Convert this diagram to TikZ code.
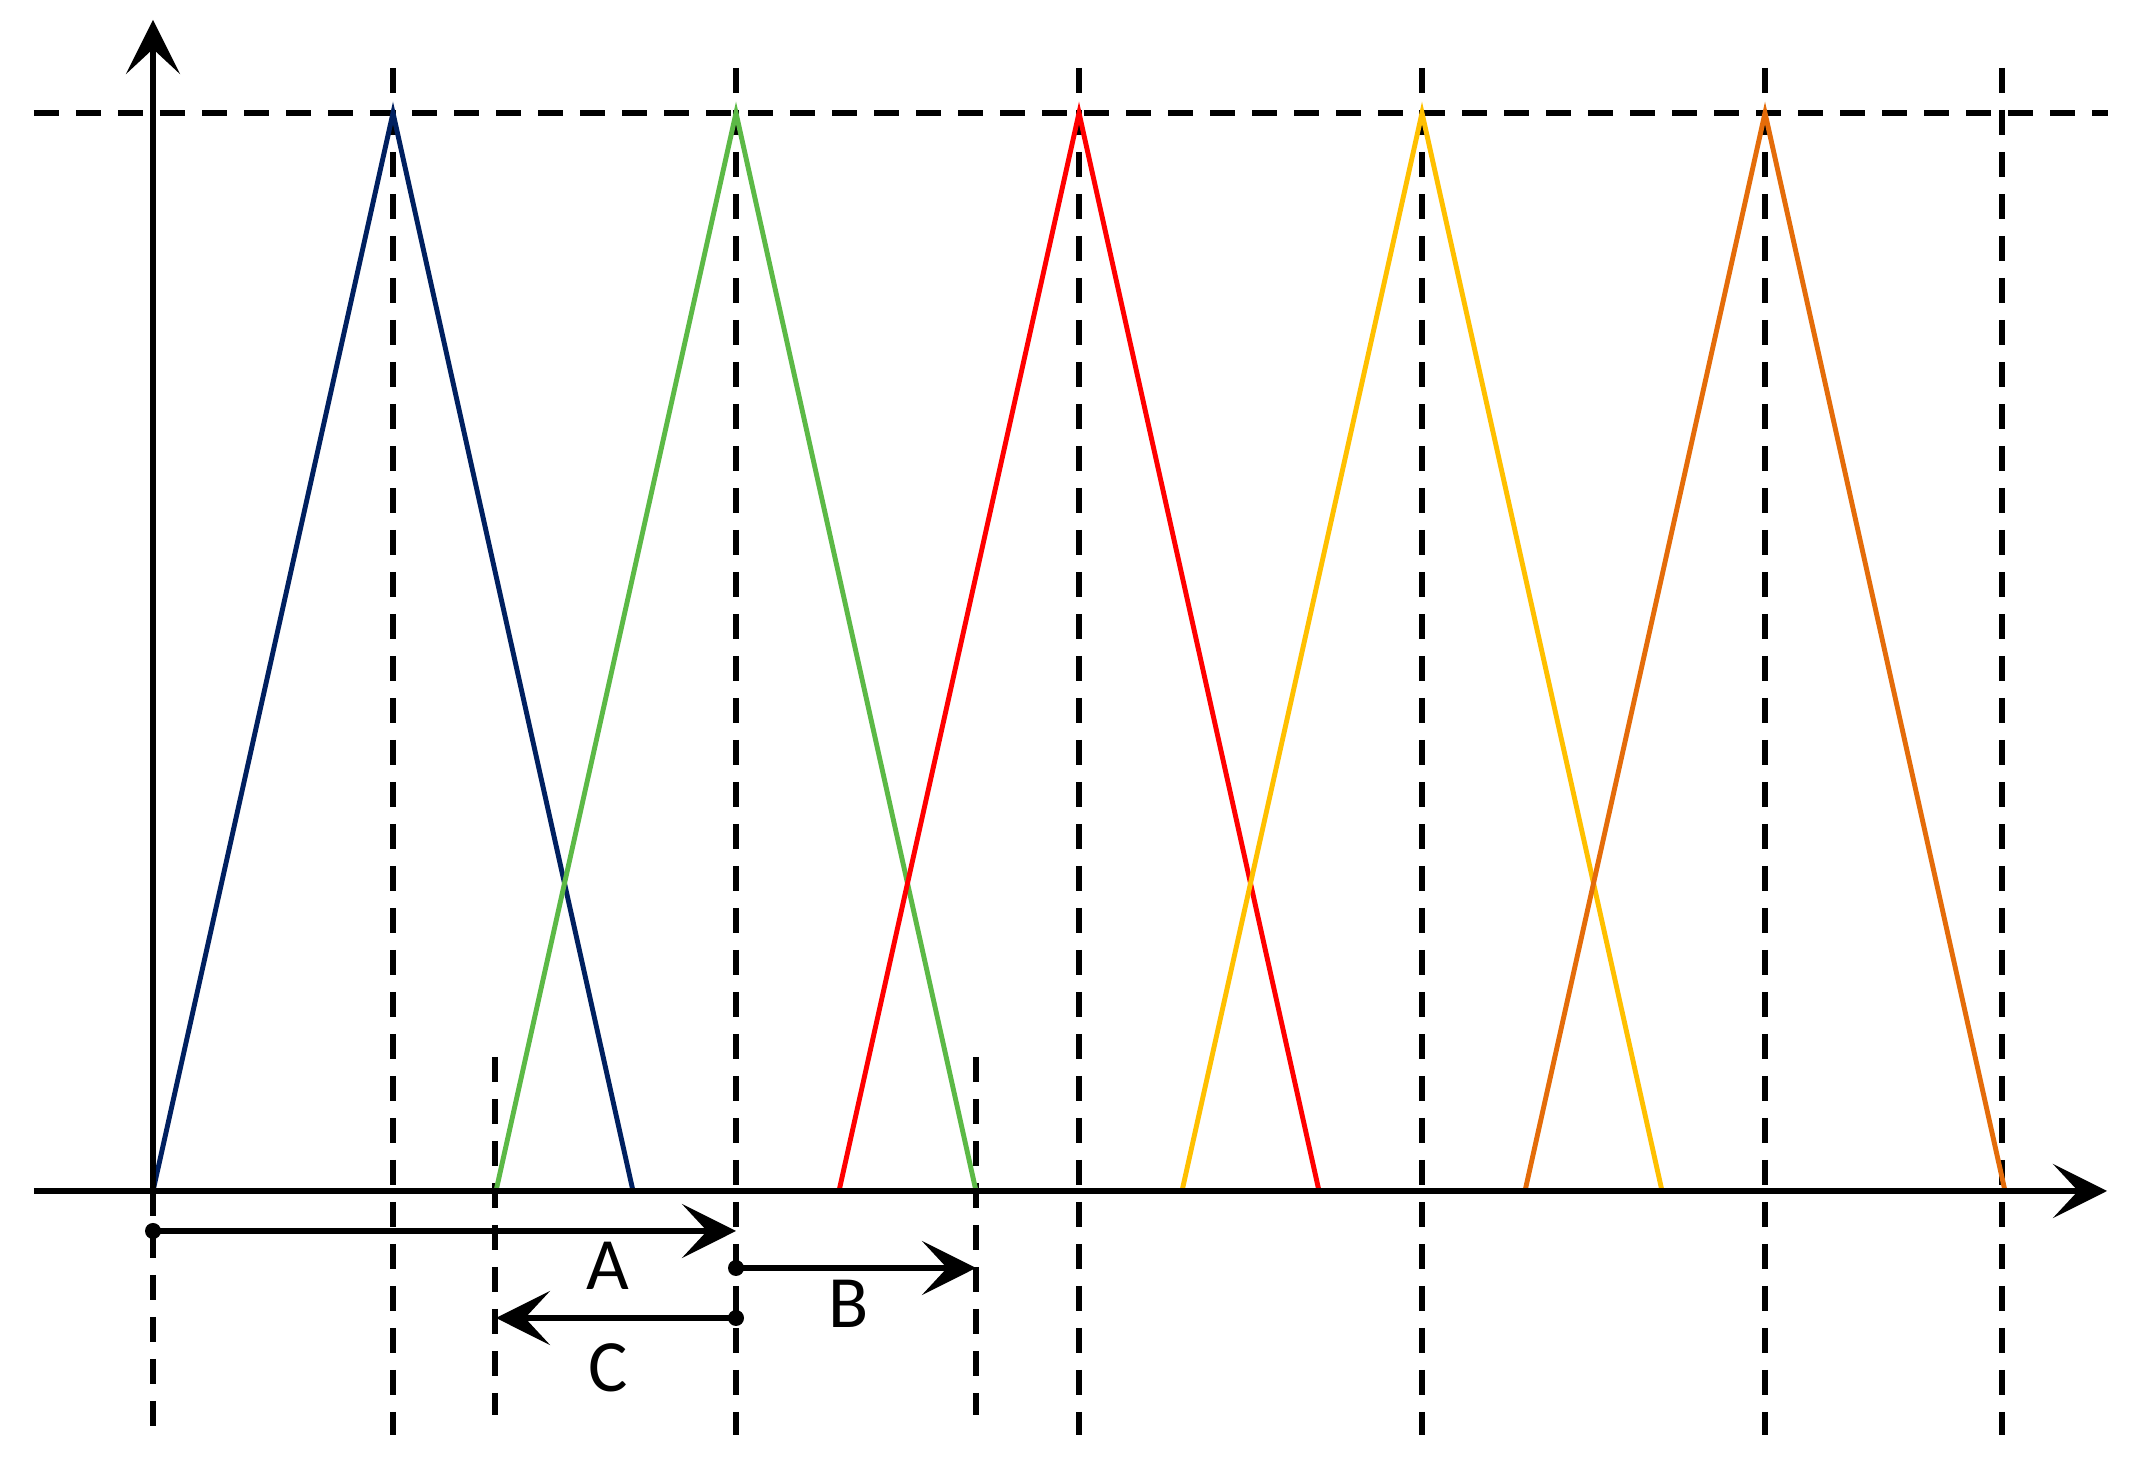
\documentclass[tikz,border=0pt]{standalone}
\usepackage{fontspec}
\setmainfont{Carlito}
\usetikzlibrary{arrows.meta}
\definecolor{fblue}{HTML}{002060}
\definecolor{fgreen}{HTML}{5CB946}
\definecolor{fred}{HTML}{FF0000}
\definecolor{fyellow}{HTML}{FFC000}
\definecolor{forange}{HTML}{E46C0A}
\tikzset{
  >={Stealth[length=5.4mm,width=5.4mm,inset=2.5mm]},
  axisline/.style={line width=1.7pt,->},
  guide/.style={line width=1.5pt,dash pattern=on 0.25cm off 0.17cm},
  span/.style={line width=1.6pt,->},
  tri/.style={line width=1.4pt,line join=miter},
  lbl/.style={font=\fontsize{21}{25}\selectfont,inner sep=0pt}
}
\begin{document}
\begin{tikzpicture}
\useasboundingbox (-1.53,-2.68) rectangle (19.81,11.91);
\pgfmathsetmacro{\peak}{10.78}
\pgfmathsetmacro{\half}{2.40}
\pgfmathsetmacro{\gap}{3.43}
% guides
\draw[guide] (-1.19,\peak) -- (19.55,\peak);
\foreach \k in {0,...,4}{
  \draw[guide] (\half+\k*\gap,11.23) -- (\half+\k*\gap,-2.44);
}
\draw[guide] (18.49,11.23) -- (18.49,-2.44);
\draw[guide] (0,0) -- (0,-2.44);
\draw[guide] (\gap-0.01,1.34) -- (\gap-0.01,-2.24);
\draw[guide] (\half+\gap+\half,1.34) -- (\half+\gap+\half,-2.24);
% triangles
\foreach \k/\c in {0/fblue,1/fgreen,2/fred,3/fyellow,4/forange}{
  \draw[tri,\c] (\k*\gap,0) -- (\half+\k*\gap,\peak) -- (2*\half+\k*\gap,0);
}
% axes
\draw[axisline] (-1.19,0) -- (19.54,0);
\draw[axisline] (0,0) -- (0,11.71);
% spans
\coordinate (a0) at (0,-0.40);
\coordinate (a1) at (\half+\gap,-0.40);
\coordinate (b0) at (\half+\gap,-0.77);
\coordinate (b1) at (2*\half+\gap,-0.77);
\coordinate (c0) at (\half+\gap,-1.27);
\coordinate (c1) at (\gap,-1.27);
\draw[span] (a0) -- (a1);
\draw[span] (b0) -- (b1);
\draw[span] (c0) -- (c1);
\foreach \p in {a0,b0,c0}
  \fill (\p) circle (0.08);
\node[lbl] (la) at (4.55,-0.75) {A};
\node[lbl] (lb) at (6.96,-1.13) {B};
\node[lbl] (lc) at (4.55,-1.77) {C};
\end{tikzpicture}
\end{document}
